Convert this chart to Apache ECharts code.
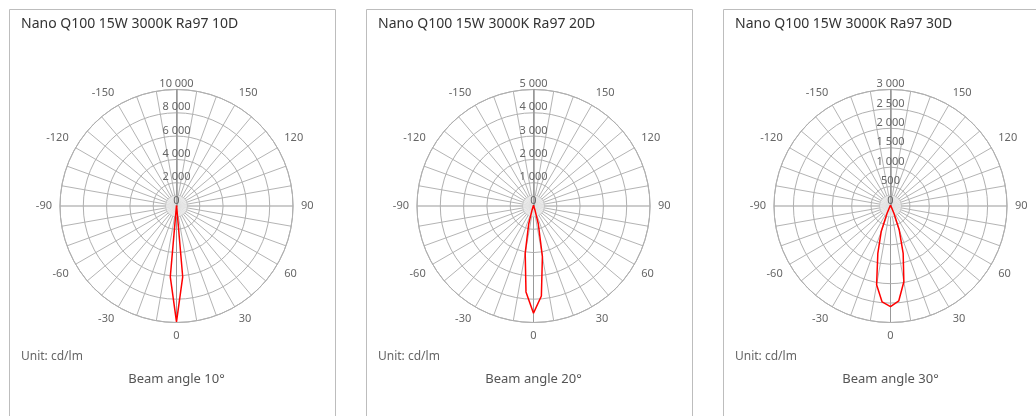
<!DOCTYPE html>
<html lang="en">
<head>
<meta charset="utf-8">
<title>Nano Q100 beam polar charts</title>
<script src="https://cdn.jsdelivr.net/npm/echarts@6/dist/echarts.min.js"></script>
<style>
  html, body { margin: 0; padding: 0; background: #fff; }
  #chart { width: 1036px; height: 416px; }
</style>
</head>
<body>
<div id="chart"></div>
<script>
  // panel texts
  var titles = ['Nano Q100 15W 3000K Ra97 10D', 'Nano Q100 15W 3000K Ra97 20D', 'Nano Q100 15W 3000K Ra97 30D'];
  var beamLabels = ['Beam angle 10°', 'Beam angle 20°', 'Beam angle 30°'];
  var unitLabel = 'Unit: cd/lm';

  // radius scale of each panel
  var radiusMax = [10000, 5000, 3000];
  var radiusStep = [2000, 1000, 500];

  // measured angles (deg) and intensities per beam
  var angles = [-180, -150, -120, -90, -60, -45, -30, -25, -20, -15, -10, -5, 0, 5, 10, 15, 20, 25, 30, 45, 60, 90, 120, 150, 180];
  var cd10 = [50, 40, 30, 20, 15, 10, 15, 20, 30, 50, 120, 6100, 9950, 6100, 120, 50, 30, 20, 15, 10, 15, 20, 30, 40, 50];
  var cd20 = [30, 25, 20, 15, 10, 10, 20, 40, 180, 800, 2050, 3700, 4600, 3880, 2200, 800, 180, 40, 20, 10, 10, 15, 20, 25, 30];
  var cd30 = [25, 20, 15, 10, 10, 15, 80, 220, 700, 1260, 2060, 2480, 2590, 2450, 1980, 1260, 660, 220, 80, 15, 10, 10, 15, 20, 25];
  var seriesValues = [cd10, cd20, cd30];

  var panelLeft = [10, 367, 724];
  var panelWidth = 326;
  var centerOffset = 166.5;
  var centerY = 206;
  var outerR = 116.5;
  var font = '"Noto Sans", sans-serif';

  function thousands(v) {
    return String(v).replace(/\B(?=(\d{3})+(?!\d))/g, ' ');
  }

  // every 9th spoke (-180, -90, 0, 90, 180) a little darker
  var spokeColors = ['#999999', '#b4b4b4', '#b4b4b4', '#b4b4b4', '#b4b4b4', '#b4b4b4', '#b4b4b4', '#b4b4b4', '#b4b4b4'];

  var polar = [], angleAxis = [], radiusAxis = [], series = [], graphic = [];

  for (var i = 0; i < 3; i++) {
    var cx = panelLeft[i] + centerOffset;
    polar.push({ center: [cx, centerY], radius: outerR });

    angleAxis.push({
      polarIndex: i,
      type: 'value',
      min: -180,
      max: 180,
      interval: 10,
      startAngle: 90,
      clockwise: false,
      z: 0,
      axisLine: { lineStyle: { color: '#a8a8a8', width: 1 } },
      axisTick: { show: false },
      axisLabel: {
        color: '#666',
        fontSize: 11,
        fontFamily: font,
        margin: 8,
        formatter: function (v) {
          return (v % 30 === 0 && Math.abs(v) !== 180) ? String(v) : '';
        }
      },
      splitLine: { show: true, lineStyle: { color: spokeColors, width: 1 } }
    });

    radiusAxis.push({
      polarIndex: i,
      type: 'value',
      min: 0,
      max: radiusMax[i],
      interval: radiusStep[i],
      z: 2,
      axisLine: { show: true, lineStyle: { color: '#999', width: 1.5 } },
      axisTick: { show: false },
      axisLabel: {
        color: '#666',
        fontSize: 11,
        fontFamily: font,
        margin: 0,
        align: 'center',
        verticalAlign: 'bottom',
        formatter: thousands
      },
      splitLine: { show: true, lineStyle: { color: '#b0b0b0', width: 1 } }
    });

    // light hub at the pole
    series.push({
      type: 'scatter',
      coordinateSystem: 'polar',
      polarIndex: i,
      silent: true,
      z: 1,
      symbolSize: 22,
      itemStyle: { color: '#ececec', borderColor: '#c0c0c0', borderWidth: 1 },
      data: [[0, 0]]
    });

    var vals = seriesValues[i];
    series.push({
      type: 'line',
      coordinateSystem: 'polar',
      polarIndex: i,
      z: 5,
      symbol: 'none',
      smooth: false,
      lineStyle: { color: '#ff0000', width: 1.5 },
      data: angles.map(function (a, k) { return [vals[k], a]; })
    });

    graphic.push({
      type: 'rect',
      silent: true,
      shape: { x: panelLeft[i] - 0.5, y: 9.5, width: panelWidth, height: 430 },
      style: { fill: 'none', stroke: '#bdbdbd', lineWidth: 1 }
    });
    graphic.push({
      type: 'text',
      silent: true,
      x: panelLeft[i] + 11,
      y: 24,
      style: { text: titles[i], fontSize: 14, fontFamily: font, fill: '#333', textVerticalAlign: 'middle' }
    });
    graphic.push({
      type: 'text',
      silent: true,
      x: panelLeft[i] + 11,
      y: 357,
      style: { text: unitLabel, fontSize: 12, fontFamily: font, fill: '#666', textVerticalAlign: 'middle' }
    });
    graphic.push({
      type: 'text',
      silent: true,
      x: cx,
      y: 379,
      style: { text: beamLabels[i], fontSize: 13, fontFamily: font, fill: '#555', textAlign: 'center', textVerticalAlign: 'middle' }
    });
  }

  var chart = echarts.init(document.getElementById('chart'), null, { renderer: 'canvas' });
  chart.setOption({
    animation: false,
    backgroundColor: '#fff',
    polar: polar,
    angleAxis: angleAxis,
    radiusAxis: radiusAxis,
    graphic: graphic,
    series: series
  });
</script>
</body>
</html>
